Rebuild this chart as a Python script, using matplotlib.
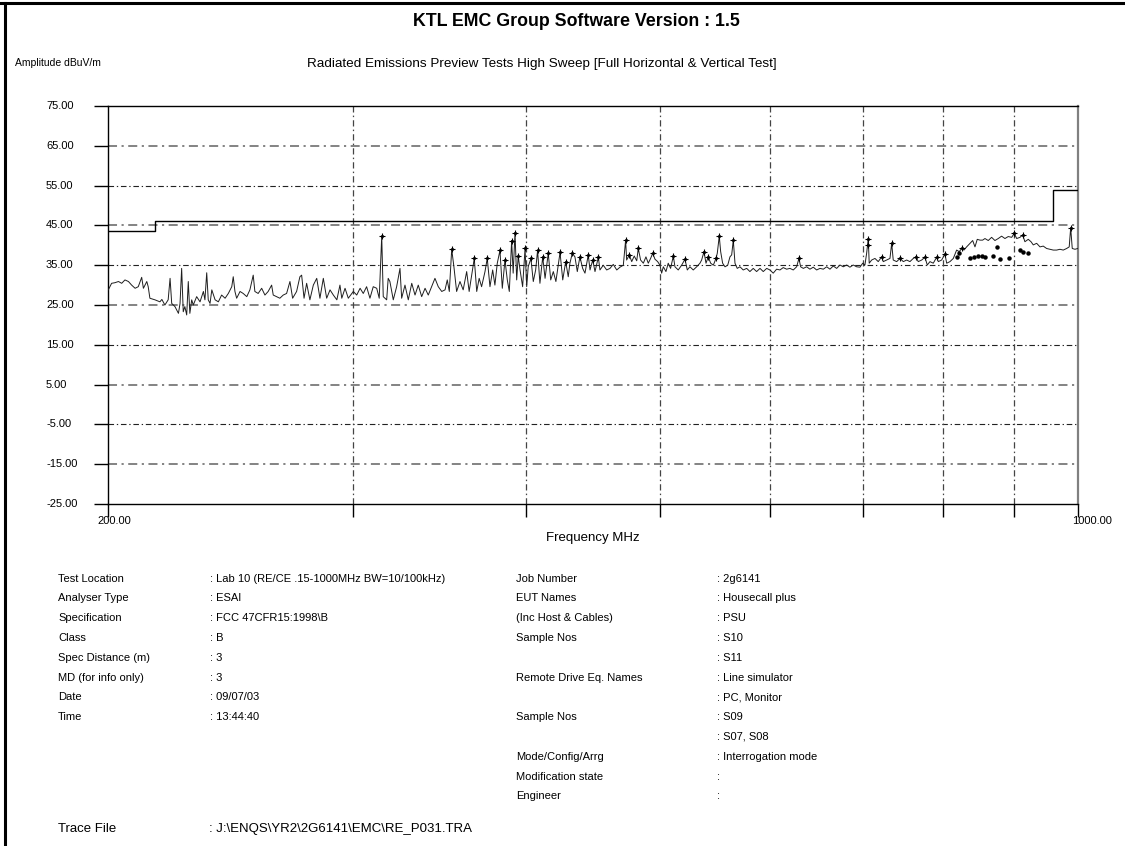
import matplotlib
matplotlib.use("Agg")
import matplotlib.pyplot as plt
from matplotlib.lines import Line2D
from matplotlib.ticker import NullLocator
import numpy as np

plt.rcParams['font.family'] = ['Liberation Sans', 'DejaVu Sans']

# --- data -----------------------------------------------------------------
Y_TICKS = [-25, -15, -5, 5, 15, 25, 35, 45, 55, 65, 75]
GRID_FREQ = [300, 400, 500, 600, 700, 800, 900]

# FCC class B limit (dBuV/m)
LIMIT_FREQ = [200, 216, 960, 1000]
LIMIT_AMP = [43.5, 46.0, 54.0, 54.0]

# measured trace, split by band
FREQ_A = [200.0, 201.1, 202.2, 203.4, 204.5, 205.6, 206.8, 207.9, 209.1, 210.2,
          211.4, 212.0, 213.2, 213.7, 214.3, 216.1, 217.9, 218.6, 219.7, 220.9,
          221.6, 222.2, 223.4, 224.7, 225.3, 225.9, 226.5, 227.1, 227.8, 228.4,
          229.0, 229.7, 230.3, 231.6, 232.9, 234.2, 234.8, 235.5, 236.1, 236.8,
          237.5, 238.8, 240.1, 241.4, 242.8, 244.1, 245.5, 246.1, 246.8, 247.5,
          248.9, 250.2, 251.7, 253.0, 254.4, 255.1, 256.5, 258.0, 259.4, 260.8,
          262.3, 263.0, 264.5, 265.9, 267.4, 268.9, 270.4, 271.6, 273.4, 274.9,
          275.7, 276.8, 278.0, 279.5, 281.1, 282.7, 284.2, 285.8, 287.4, 289.0,
          290.6, 292.3, 293.8, 294.7, 296.3, 297.9]
AMP_A = [28.8, 30.45, 30.6, 30.9, 30.45, 31.3, 30.9, 30.0, 29.2, 29.6,
         31.95, 29.2, 30.9, 29.6, 26.7, 26.3, 25.8, 26.4, 25.0, 26.3,
         31.7, 25.4, 24.6, 22.9, 25.4, 34.2, 23.3, 24.6, 22.5, 30.9,
         22.9, 26.3, 25.0, 27.1, 25.8, 28.4, 26.3, 33.1, 26.3, 25.4,
         28.8, 26.3, 25.8, 27.5, 26.7, 27.9, 29.6, 32.1, 28.4, 26.7,
         28.4, 27.9, 27.1, 28.8, 32.5, 28.4, 27.9, 29.2, 27.5, 28.4,
         30.0, 27.5, 27.1, 26.7, 27.5, 27.9, 30.9, 26.7, 28.4, 32.1,
         32.5, 26.7, 30.45, 26.3, 30.0, 31.7, 26.7, 31.7, 26.7, 28.8,
         27.5, 26.3, 30.0, 26.7, 29.2, 26.7]

FREQ_B = [300.4, 302.1, 303.8, 305.4, 307.1, 308.8, 310.5, 312.3, 313.6, 314.9,
          315.7, 317.5, 318.3, 319.2, 321.0, 322.8, 324.6, 325.5, 327.3, 329.1,
          331.0, 332.8, 334.6, 336.5, 338.4, 340.2, 342.1, 344.0, 345.9, 347.9,
          349.8, 351.1, 352.3, 353.7, 355.0, 356.6, 358.6, 360.5, 362.6, 364.1,
          365.6, 367.2, 368.7, 370.2, 371.7, 373.8, 375.2, 376.9, 378.6, 380.0,
          381.5, 383.2, 384.7, 386.4, 387.9, 389.2, 390.7, 391.7, 392.9, 394.0,
          395.0, 396.2, 397.9, 399.5, 400.6, 401.6, 403.4, 405.0, 406.6, 407.9,
          409.5, 411.4, 413.0, 415.2, 416.9, 418.7, 420.5, 423.4, 425.3, 427.4,
          429.2, 430.4, 432.1, 434.0, 435.7, 437.6, 439.6, 441.3, 443.7]
AMP_B = [28.4, 27.5, 29.2, 27.9, 29.6, 26.7, 29.6, 29.2, 26.7, 42.3,
         27.1, 26.3, 31.7, 30.9, 26.3, 29.6, 34.2, 26.7, 30.0, 26.3,
         30.45, 27.5, 30.0, 27.1, 29.2, 27.5, 29.6, 31.7, 29.6, 28.4,
         28.8, 31.3, 28.4, 39.0, 34.6, 28.4, 30.9, 28.8, 33.4, 28.4,
         32.5, 36.7, 28.4, 31.7, 29.6, 33.4, 36.7, 29.6, 33.8, 30.0,
         35.5, 38.7, 29.2, 36.3, 31.3, 28.4, 41.2, 33.0, 43.2, 31.3,
         37.3, 33.8, 29.6, 39.2, 29.6, 34.6, 36.7, 30.9, 33.8, 38.7,
         30.45, 37.1, 31.7, 38.0, 31.3, 33.4, 30.9, 38.2, 31.3, 35.9,
         32.1, 35.5, 38.0, 37.1, 33.4, 37.1, 34.2, 33.0, 37.6]

FREQ_C = [445.0, 447.0, 448.7, 451.2, 452.4, 454.9, 457.5, 460.0, 462.5, 465.2,
          467.7, 470.3, 472.1, 472.9, 475.0, 476.9, 478.9, 480.9, 482.1, 484.0,
          486.2, 488.3, 490.2, 492.1, 493.8, 495.7, 497.9, 499.8, 501.2, 502.6,
          504.8, 506.7, 508.7, 511.0, 512.4, 515.2, 518.1, 521.0, 523.0, 525.3,
          528.2, 531.2, 534.1, 535.6, 537.7, 539.5, 541.5, 543.7, 546.1, 548.5,
          549.7, 551.5, 552.8, 554.6, 556.8, 559.3, 561.4, 563.0, 564.5, 566.1,
          568.2, 570.8, 573.9, 577.2, 580.3, 583.5, 586.8, 590.1, 593.3, 596.7,
          599.9, 603.2, 606.6, 610.0, 613.3, 616.8, 620.2, 623.6, 627.1, 629.5,
          631.3, 634.1, 637.6, 641.1, 644.7, 648.3, 651.9, 655.5, 659.2, 662.8]
AMP_C = [33.8, 36.3, 33.4, 37.0, 33.8, 35.0, 33.8, 34.2, 35.2, 33.8,
         34.5, 35.0, 41.3, 36.3, 37.6, 35.9, 37.3, 36.1, 39.2, 36.3,
         35.5, 37.1, 35.5, 36.7, 38.0, 36.5, 35.9, 35.0, 33.0, 34.6,
         33.4, 35.5, 34.2, 37.3, 34.6, 33.8, 35.0, 36.5, 33.8, 34.6,
         33.8, 34.6, 35.5, 36.3, 38.4, 35.5, 37.1, 35.5, 35.0, 36.7,
         38.0, 42.3, 38.4, 35.5, 34.6, 35.0, 37.1, 37.6, 41.3, 35.5,
         34.2, 34.6, 33.8, 34.2, 33.4, 34.2, 33.4, 34.2, 33.4, 34.2,
         33.8, 33.0, 34.0, 33.8, 34.4, 34.0, 34.2, 33.8, 34.6, 36.7,
         34.6, 34.2, 34.6, 34.0, 34.5, 33.8, 34.2, 34.0, 34.6, 34.0]

FREQ_D = [666.4, 670.2, 673.9, 677.6, 681.4, 685.1, 688.9, 692.8, 696.6, 699.8,
          702.4, 704.4, 706.3, 707.4, 710.3, 714.2, 718.1, 722.2, 724.1, 728.2,
          732.2, 734.3, 736.2, 740.4, 744.5, 748.6, 752.8, 756.9, 761.1, 764.5,
          767.4, 771.8, 776.0, 779.0, 782.5, 786.8, 791.2, 793.4, 797.8, 802.2,
          804.5, 808.9, 813.4, 817.9, 821.5, 824.7, 827.9, 831.6, 836.2, 840.0,
          843.2, 846.4, 850.2, 854.0, 857.3, 862.0, 866.8, 871.6, 876.4, 881.3,
          886.2, 891.1, 896.2, 900.0, 903.7, 908.6, 912.7, 916.1, 921.2, 925.4,
          928.9, 934.1, 939.3, 944.4, 949.7, 955.0, 960.3, 965.6, 971.0, 976.3,
          981.8, 986.0, 988.4, 991.0, 995.5, 1000.0]
AMP_D = [34.8, 34.2, 35.05, 34.6, 35.05, 34.5, 35.05, 34.6, 34.5, 35.5,
         35.05, 38.0, 41.7, 35.5, 36.3, 36.7, 35.9, 37.1, 35.9, 36.3,
         36.7, 40.5, 36.3, 35.9, 36.7, 35.9, 36.3, 35.9, 36.7, 37.1,
         35.9, 36.3, 37.0, 35.05, 35.9, 35.5, 37.0, 35.9, 36.3, 37.8,
         35.5, 35.9, 36.7, 38.8, 38.4, 39.2, 38.8, 39.6, 40.5, 41.2,
         39.6, 41.5, 41.3, 41.3, 41.7, 41.2, 42.0, 41.2, 41.7, 42.3,
         41.7, 42.2, 42.0, 43.0, 41.7, 42.0, 42.6, 40.9, 41.5, 40.9,
         40.1, 40.5, 39.6, 39.8, 39.2, 39.0, 38.8, 38.8, 39.0, 38.8,
         39.2, 39.6, 44.4, 39.2, 39.0, 39.2]

# peak markers
PEAK_FREQ = [314.9, 353.7, 367.2, 375.2, 383.2, 386.4, 390.7, 392.9, 395.0, 399.5,
             403.4, 407.9, 411.4, 415.2, 423.4, 427.4, 432.1, 437.6, 443.7,
             447.0, 451.2, 472.1, 475.0, 482.1, 493.8, 511.0, 521.0, 537.7, 541.5,
             548.5, 551.5, 564.5, 629.5,
             706.3, 706.3, 722.2, 734.3, 744.5, 764.5, 776.0, 791.2, 802.2, 824.7,
             900.0, 912.7, 988.4]
PEAK_AMP = [42.3, 39.0, 36.7, 36.7, 38.7, 36.3, 41.2, 43.2, 37.3, 39.2,
            36.7, 38.7, 37.1, 38.0, 38.2, 35.9, 38.0, 37.1, 37.6,
            36.3, 37.0, 41.3, 37.6, 39.2, 38.0, 37.3, 36.5, 38.4, 37.1,
            36.7, 42.3, 41.3, 36.7,
            41.7, 40.0, 37.1, 40.5, 36.7, 37.1, 37.0, 37.0, 37.8, 39.2,
            43.0, 42.6, 44.4]

# second (lower) set of points near the top of the band
DOT_FREQ = [817.9, 821.5, 836.2, 841.7, 847.8, 852.6, 857.3, 868.3, 874.9, 878.9,
            892.6, 908.6, 913.6, 921.2]
DOT_AMP = [37.1, 38.0, 36.7, 37.1, 37.3, 37.3, 37.1, 37.3, 39.6, 36.6,
           36.9, 38.8, 38.2, 38.0]

INFO_LEFT = [("Test Location", ": Lab 10 (RE/CE .15-1000MHz BW=10/100kHz)"),
             ("Analyser Type", ": ESAI"),
             ("Specification", ": FCC 47CFR15:1998\\B"),
             ("Class", ": B"),
             ("Spec Distance (m)", ": 3"),
             ("MD (for info only)", ": 3"),
             ("Date", ": 09/07/03"),
             ("Time", ": 13:44:40")]
INFO_RIGHT = [("Job Number", ": 2g6141"),
              ("EUT Names", ": Housecall plus"),
              ("(Inc Host & Cables)", ": PSU"),
              ("Sample Nos", ": S10"),
              ("", ": S11"),
              ("Remote Drive Eq. Names", ": Line simulator"),
              ("", ": PC, Monitor"),
              ("Sample Nos", ": S09"),
              ("", ": S07, S08"),
              ("Mode/Config/Arrg", ": Interrogation mode"),
              ("Modification state", ":"),
              ("Engineer", ":")]
TRACE_FILE = ": J:\\ENQS\\YR2\\2G6141\\EMC\\RE_P031.TRA"

# --- figure ---------------------------------------------------------------
W, H = 1125, 846
fig = plt.figure(figsize=(W / 100, H / 100), dpi=100)
fig.patch.set_facecolor("white")


def fx(px):
    return px / W


def fy(py):
    return 1 - py / H


L, R, T, B = 108.3, 1077.7, 106, 504
ax = fig.add_axes([fx(L), fy(B), (R - L) / W, (B - T) / H])
ax.set_xscale("log")
ax.set_xlim(200, 1000)
ax.set_ylim(-25, 75)

dashdot = (0, (5, 2.5, 1.2, 2.5))
for i, v in enumerate(Y_TICKS[1:-1]):
    if i % 2 == 0:
        ax.axhline(v, color="#7a7a7a", lw=1.3, ls=dashdot, zorder=1)
    else:
        ax.axhline(v, color="#222222", lw=0.8, ls=dashdot, zorder=1)
for f in GRID_FREQ:
    ax.axvline(f, color="#444444", lw=0.9, ls=dashdot, zorder=1)

ax.step(LIMIT_FREQ, LIMIT_AMP, where="post", color="black", lw=1.0, zorder=3)

freq = np.concatenate([FREQ_A, FREQ_B, FREQ_C, FREQ_D])
amp = np.concatenate([AMP_A, AMP_B, AMP_C, AMP_D])
ax.plot(freq, amp, color="#1e1e1e", lw=0.7, zorder=4)
ax.plot(PEAK_FREQ, PEAK_AMP, "+", ms=4, mew=0.8, color="black", zorder=5)
ax.plot(PEAK_FREQ, PEAK_AMP, ".", ms=2.5, color="black", zorder=5)
ax.plot(DOT_FREQ, DOT_AMP, "o", ms=2.2, color="black", zorder=5)

for s in ["left", "top", "bottom"]:
    ax.spines[s].set_color("black")
    ax.spines[s].set_linewidth(1.0)
ax.spines["right"].set_color("#808080")
ax.spines["right"].set_linewidth(1.6)

# y labels are left-aligned at x = 46 px on the printout
ax.set_yticks(Y_TICKS)
ax.set_yticklabels([])
ylab_x = (46 - L) / (R - L)
for v in Y_TICKS:
    ax.text(ylab_x, v, f"{v:.2f}", transform=ax.get_yaxis_transform(),
            ha="left", va="center", fontsize=8, clip_on=False)
ax.set_xticks([200] + GRID_FREQ + [1000])
ax.set_xticklabels([])
ax.xaxis.set_minor_locator(NullLocator())
ax.tick_params(axis="y", length=10, width=1.0, colors="black")
ax.tick_params(axis="x", length=9, width=1.0, colors="black")

fig.text(fx(97), fy(521), "200.00", ha="left", va="center", fontsize=8)
fig.text(fx(1072), fy(521), "1000.00", ha="left", va="center", fontsize=8)
fig.text(fx(593), fy(538), "Frequency MHz", ha="center", va="center", fontsize=9.5)

# headers
fig.text(fx(576), fy(21), "KTL EMC Group Software Version : 1.5", ha="center", va="center",
         fontsize=12.8, fontweight="bold")
fig.text(fx(15), fy(63), "Amplitude dBuV/m", ha="left", va="center", fontsize=7.5)
fig.text(fx(542), fy(64),
         "Radiated Emissions Preview Tests High Sweep [Full Horizontal & Vertical Test]",
         ha="center", va="center", fontsize=9.7)

# info block
row_y = [578.5 + 19.8 * i for i in range(12)]
for (lab, val), y in zip(INFO_LEFT, row_y):
    fig.text(fx(58), fy(y), lab, ha="left", va="center", fontsize=8)
    fig.text(fx(210), fy(y), val, ha="left", va="center", fontsize=8)
for (lab, val), y in zip(INFO_RIGHT, row_y):
    fig.text(fx(516), fy(y), lab, ha="left", va="center", fontsize=8)
    fig.text(fx(717), fy(y), val, ha="left", va="center", fontsize=8)
fig.text(fx(58), fy(829), "Trace File", ha="left", va="center", fontsize=9.5)
fig.text(fx(209), fy(829), TRACE_FILE, ha="left", va="center", fontsize=9.5)

# page border (top and left edges only)
fig.add_artist(Line2D([0, 1], [fy(3), fy(3)], color="black", lw=2.2))
fig.add_artist(Line2D([fx(5), fx(5)], [0, fy(3)], color="black", lw=2.2))

fig.savefig("out.png", dpi=100)
